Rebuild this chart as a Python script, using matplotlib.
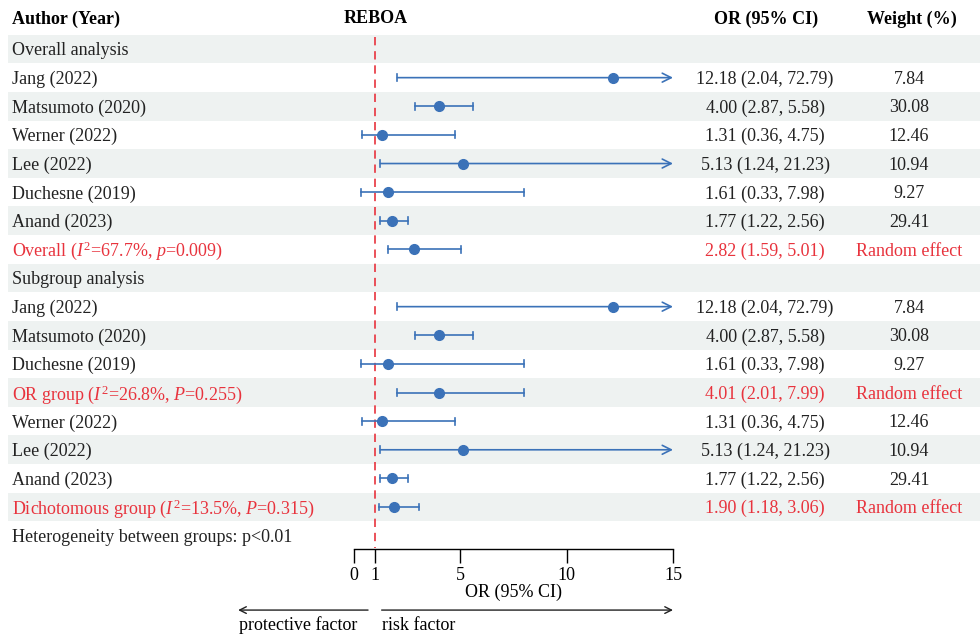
import matplotlib.pyplot as plt

plt.rcParams['font.family'] = ['Liberation Serif', 'DejaVu Serif']
plt.rcParams['mathtext.fontset'] = 'custom'
plt.rcParams['mathtext.rm'] = 'Liberation Serif'
plt.rcParams['mathtext.it'] = 'Liberation Serif:italic'

# rows of the table (top to bottom, after the header)
labels = ['Overall analysis', 'Jang (2022)', 'Matsumoto (2020)', 'Werner (2022)', 'Lee (2022)',
          'Duchesne (2019)', 'Anand (2023)', r'Overall ($\mathit{I}^2$=67.7%, $\mathit{p}$=0.009)',
          'Subgroup analysis', 'Jang (2022)', 'Matsumoto (2020)', 'Duchesne (2019)',
          r'OR group ($\mathit{I}^2$=26.8%, $\mathit{P}$=0.255)',
          'Werner (2022)', 'Lee (2022)', 'Anand (2023)',
          r'Dichotomous group ($\mathit{I}^2$=13.5%, $\mathit{P}$=0.315)',
          'Heterogeneity between groups: p<0.01']
odds = [None, 12.18, 4.00, 1.31, 5.13, 1.61, 1.77, 2.82,
        None, 12.18, 4.00, 1.61, 4.01, 1.31, 5.13, 1.77, 1.90, None]
lower = [None, 2.04, 2.87, 0.36, 1.24, 0.33, 1.22, 1.59,
         None, 2.04, 2.87, 0.33, 2.01, 0.36, 1.24, 1.22, 1.18, None]
upper = [None, 72.79, 5.58, 4.75, 21.23, 7.98, 2.56, 5.01,
         None, 72.79, 5.58, 7.98, 7.99, 4.75, 21.23, 2.56, 3.06, None]
weights = ['', '7.84', '30.08', '12.46', '10.94', '9.27', '29.41', 'Random effect',
           '', '7.84', '30.08', '9.27', 'Random effect', '12.46', '10.94', '29.41', 'Random effect', '']
pooled = [False, False, False, False, False, False, False, True,
          False, False, False, False, True, False, False, False, True, False]
xticks = [0, 1, 5, 10, 15]

blue = '#3b72b8'
red = '#e8333d'
band = '#eef2f1'
fs = 13
dy = 0.06  # small downward nudge of text inside rows

fig = plt.figure(figsize=(9.8, 6.37), dpi=100)
ax = fig.add_axes([0, 0, 1, 1])

# pixel geometry -> data limits (0 at 354px, 15 at 673px; row pitch 28.625px)
ppu = 319 / 15
ax.set_xlim(-354 / ppu, (980 - 354) / ppu)
y0, pitch = 20.4, 28.625
ax.set_ylim((637 - y0) / pitch, -y0 / pitch)

xmax = 15
tr = ax.get_yaxis_transform()  # x in axes fraction, y in data

# header
ax.text(12 / 980, -0.05, 'Author (Year)', transform=tr, ha='left', va='center', fontsize=fs, fontweight='bold')
ax.text(1, -0.05, 'REBOA', ha='center', va='center', fontsize=fs, fontweight='bold')
ax.text(766 / 980, -0.05, 'OR (95% CI)', transform=tr, ha='center', va='center', fontsize=fs, fontweight='bold')
ax.text(912 / 980, -0.05, 'Weight (%)', transform=tr, ha='center', va='center', fontsize=fs, fontweight='bold')

for i, lab in enumerate(labels):
    y = i + 1
    if i % 2 == 0:
        ax.axhspan(y - 0.5, y + 0.5, xmin=8 / 980, xmax=1, color=band, lw=0, zorder=0)
    col = red if pooled[i] else '#222222'
    ax.text(12 / 980, y + dy, lab, transform=tr, ha='left', va='center', fontsize=fs, color=col)
    if odds[i] is None:
        continue
    ax.text(765 / 980, y + dy, f'{odds[i]:.2f} ({lower[i]:.2f}, {upper[i]:.2f})', transform=tr,
            ha='center', va='center', fontsize=fs, color=col)
    ax.text(909 / 980, y + dy, weights[i], transform=tr, ha='center', va='center', fontsize=fs, color=col)
    # confidence interval
    ax.plot([lower[i], lower[i]], [y - 0.12, y + 0.12], color=blue, lw=1.2, zorder=3)
    if upper[i] > xmax:
        ax.annotate('', xy=(xmax, y), xytext=(lower[i], y),
                    arrowprops=dict(arrowstyle='->', color=blue, lw=1.2, mutation_scale=16,
                                    shrinkA=0, shrinkB=0), zorder=3)
    else:
        ax.plot([lower[i], upper[i]], [y, y], color=blue, lw=1.2, zorder=3)
        ax.plot([upper[i], upper[i]], [y - 0.12, y + 0.12], color=blue, lw=1.2, zorder=3)
    ax.plot(odds[i], y, 'o', color=blue, ms=7, zorder=4)

# reference line at OR = 1
ax.plot([1, 1], [0.58, 18.43], color=red, lw=1.2, ls=(0, (5, 3.5)), zorder=2)

# OR axis
axis_y = 18.46
ax.spines[['top', 'right', 'left']].set_visible(False)
ax.spines['bottom'].set_position(('data', axis_y))
ax.spines['bottom'].set_bounds(0, 15)
ax.spines['bottom'].set_linewidth(1)
ax.set_xticks(xticks)
ax.set_xticklabels([str(t) for t in xticks], fontsize=fs)
ax.tick_params(axis='x', direction='out', length=10, width=1, pad=3)
ax.set_yticks([])
ax.text(7.5, 19.97, 'OR (95% CI)', ha='center', va='center', fontsize=fs)

# direction arrows
ax.annotate('', xy=(-5.45, 20.6), xytext=(0.66, 20.6),
            arrowprops=dict(arrowstyle='->', color='#222222', lw=1, mutation_scale=12, shrinkA=0, shrinkB=0))
ax.annotate('', xy=(15, 20.6), xytext=(1.3, 20.6),
            arrowprops=dict(arrowstyle='->', color='#222222', lw=1, mutation_scale=12, shrinkA=0, shrinkB=0))
ax.text(-5.4, 21.3, 'protective factor', ha='left', va='baseline', fontsize=fs)
ax.text(1.3, 21.3, 'risk factor', ha='left', va='baseline', fontsize=fs)

fig.savefig('out.png', dpi=100)
